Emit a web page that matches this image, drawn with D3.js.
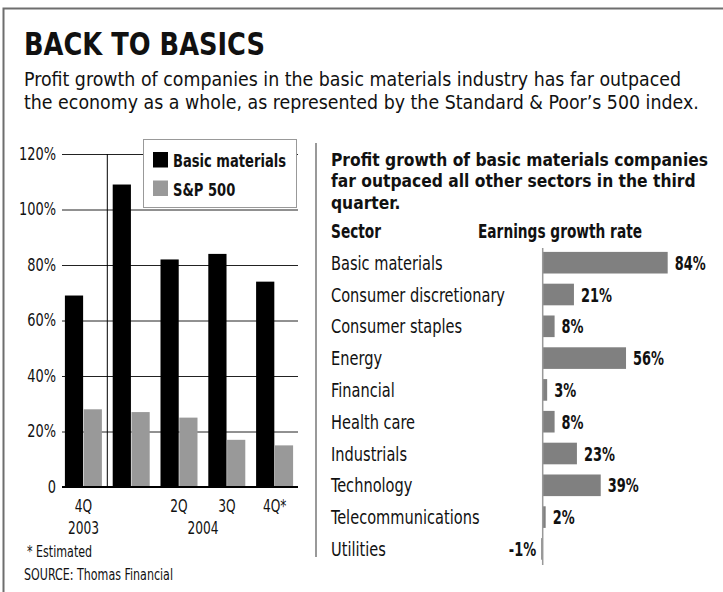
<!DOCTYPE html>
<html>
<head>
<meta charset="utf-8">
<script src="https://cdn.jsdelivr.net/npm/d3@7"></script>
<style>
  html, body { margin: 0; padding: 0; background: #fff; }
  svg { display: block; }
  text { font-family: "Liberation Sans Narrow", "DejaVu Sans Condensed", "Roboto Condensed", sans-serif; fill: #111; }
</style>
</head>
<body>
<svg id="chart" width="723" height="592"></svg>
<script>
// ---------- DATA ----------
const quarters = ["4Q 2003", "1Q 2004", "2Q 2004", "3Q 2004", "4Q 2004"];
const quarterTickLabels = ["4Q", "", "2Q", "3Q", "4Q*"];
const yearLabels = ["2003", "2004"];
const basicMaterials = [69, 109, 82, 84, 74];
const sp500 = [28, 27, 25, 17, 15];
const yTicks = [0, 20, 40, 60, 80, 100, 120];
const seriesNames = ["Basic materials", "S&P 500"];

const sectors = ["Basic materials", "Consumer discretionary", "Consumer staples", "Energy",
  "Financial", "Health care", "Industrials", "Technology", "Telecommunications", "Utilities"];
const growthRates = [84, 21, 8, 56, 3, 8, 23, 39, 2, -1];

const titleText = "BACK TO BASICS";
const subtitleLines = [
  "Profit growth of companies in the basic materials industry has far outpaced",
  "the economy as a whole, as represented by the Standard & Poor\u2019s 500 index."
];
const rightTitleLines = [
  "Profit growth of basic materials companies",
  "far outpaced all other sectors in the third",
  "quarter."
];

// ---------- HELPERS ----------
const svg = d3.select("#chart");
function fitOne(node, target) {
  const w = node.getComputedTextLength();
  if (w > 0) d3.select(node).attr("textLength", target).attr("lengthAdjust", "spacingAndGlyphs");
}
function fitGroup(sel, refNode, target) {
  const r = target / refNode.getComputedTextLength();
  sel.each(function () {
    const l = this.getComputedTextLength();
    if (l > 0) d3.select(this).attr("textLength", l * r).attr("lengthAdjust", "spacingAndGlyphs");
  });
}
// shrink font so the natural width stays inside a limit, then fit to target
function limitFont(sel, refNode, limit) {
  const w = refNode.getComputedTextLength();
  const fs = parseFloat(d3.select(refNode).attr("font-size"));
  if (w > limit) sel.attr("font-size", fs * limit / w);
}

// ---------- FRAME ----------
svg.append("path").attr("d", "M3.5,592 V8.5 H723")
  .attr("fill", "none").attr("stroke", "#6e6e6e").attr("stroke-width", 2);

// ---------- HEADER ----------
const t = svg.append("text").attr("x", 24).attr("y", 55)
  .attr("font-size", 32).attr("font-weight", "bold").attr("fill", "#000").text(titleText);
fitOne(t.node(), 241);

const subs = svg.selectAll(".sub").data(subtitleLines).join("text").attr("class", "sub")
  .attr("x", 24).attr("y", (d, i) => 86 + i * 23).attr("font-size", 19.5).text(d => d);
limitFont(subs, subs.nodes()[1], 690);
fitGroup(subs, subs.nodes()[0], 657);

// ---------- LEFT CHART ----------
const y = d3.scaleLinear().domain([0, 120]).range([487, 154]);
const x0 = d3.scaleBand().domain(quarters).range([59.5, 298.5]).paddingInner(0.226).paddingOuter(0.113);
const x1 = d3.scaleBand().domain(seriesNames).range([0, x0.bandwidth()]).paddingInner(0.03);
const colors = d3.scaleOrdinal().domain(seriesNames).range(["#000000", "#999999"]);

const gridLeft = 62, gridRight = 298;
const yAxis = d3.axisLeft(y).tickValues(yTicks)
  .tickFormat(d => d === 0 ? "0" : d + "%")
  .tickSize(-(gridRight - gridLeft)).tickPadding(6);
const gy = svg.append("g").attr("transform", `translate(${gridLeft},0)`).call(yAxis);
gy.select(".domain").remove();
gy.selectAll(".tick line").attr("stroke", "#222").attr("stroke-width", 1);
gy.selectAll(".tick text").attr("font-size", 17).attr("fill", "#111")
  .style("font-family", '"Liberation Sans Narrow", "DejaVu Sans Condensed", sans-serif');
const tickTexts = gy.selectAll(".tick text");
fitGroup(tickTexts, tickTexts.nodes()[tickTexts.size() - 1], 37);

// separator between 2003 and 2004
const sepX = (x0(quarters[0]) + x0.bandwidth() + x0(quarters[1])) / 2;
svg.append("line").attr("x1", sepX).attr("x2", sepX).attr("y1", y(120)).attr("y2", y(0))
  .attr("stroke", "#000").attr("stroke-width", 1);

// bars
const rows = quarters.map((q, i) => ({ q, vals: [basicMaterials[i], sp500[i]] }));
svg.append("g").selectAll("g").data(rows).join("g")
  .attr("transform", d => `translate(${x0(d.q)},0)`)
  .selectAll("rect").data(d => d.vals.map((v, j) => ({ s: seriesNames[j], v })))
  .join("rect")
  .attr("x", d => x1(d.s)).attr("width", x1.bandwidth())
  .attr("y", d => y(d.v)).attr("height", d => y(0) - y(d.v))
  .attr("fill", d => colors(d.s));

// zero axis line
svg.append("line").attr("x1", gridLeft).attr("x2", gridRight).attr("y1", y(0)).attr("y2", y(0))
  .attr("stroke", "#000").attr("stroke-width", 2);

// x axis labels
const xAxis = d3.axisBottom(x0).tickSize(0).tickPadding(13)
  .tickFormat((d, i) => quarterTickLabels[i]);
const gx = svg.append("g").attr("transform", `translate(0,${y(0)})`).call(xAxis);
gx.select(".domain").remove();
gx.selectAll(".tick text").attr("font-size", 17).attr("fill", "#111")
  .style("font-family", '"Liberation Sans Narrow", "DejaVu Sans Condensed", sans-serif');

const yearPos = [
  x0(quarters[0]) + x0.bandwidth() / 2,
  (x0(quarters[1]) + x0(quarters[4]) + x0.bandwidth()) / 2
];
const years = svg.selectAll(".year").data(yearLabels).join("text").attr("class", "year")
  .attr("x", (d, i) => yearPos[i]).attr("y", 534).attr("text-anchor", "middle")
  .attr("font-size", 17).text(d => d);
const yearNatural = years.nodes()[0].getComputedTextLength();
fitGroup(years, years.nodes()[0], 31);
const xTexts = gx.selectAll(".tick text").filter(function () { return this.textContent !== ""; });
xTexts.each(function () {
  const l = this.getComputedTextLength();
  d3.select(this).attr("textLength", l * 31 / yearNatural).attr("lengthAdjust", "spacingAndGlyphs");
});

// legend
const lg = svg.append("g");
lg.append("rect").attr("x", 143.5).attr("y", 139.5).attr("width", 153).attr("height", 68)
  .attr("fill", "#fff").attr("stroke", "#999").attr("stroke-width", 1);
const li = lg.selectAll("g.li").data(seriesNames).join("g").attr("class", "li")
  .attr("transform", (d, i) => `translate(153,${152 + i * 28.5})`);
li.append("rect").attr("width", 15).attr("height", 15.5).attr("fill", d => colors(d));
const legTexts = li.append("text").attr("x", 20).attr("y", 15).attr("font-size", 17)
  .attr("font-weight", "bold").attr("fill", "#000").text(d => d);
fitGroup(legTexts, legTexts.nodes()[0], 113);

// footnotes
const fn1 = svg.append("text").attr("x", 27).attr("y", 557).attr("font-size", 15.5).text("* Estimated");
const fn2 = svg.append("text").attr("x", 24).attr("y", 580).attr("font-size", 15.5).text("SOURCE: Thomas Financial");
fitGroup(d3.selectAll([fn1.node(), fn2.node()]), fn2.node(), 149);

// ---------- RIGHT PANEL ----------
svg.append("line").attr("x1", 316).attr("x2", 316).attr("y1", 143).attr("y2", 557)
  .attr("stroke", "#999").attr("stroke-width", 2);

const rt = svg.selectAll(".rt").data(rightTitleLines).join("text").attr("class", "rt")
  .attr("x", 331).attr("y", (d, i) => 165.5 + i * 21.8)
  .attr("font-size", 20).attr("font-weight", "bold").attr("fill", "#000").text(d => d);
limitFont(rt, rt.nodes()[0], 386);
fitGroup(rt, rt.nodes()[0], 377);

const hdr = svg.selectAll(".hdr").data([["Sector", 331], ["Earnings growth rate", 478]]).join("text")
  .attr("class", "hdr").attr("x", d => d[1]).attr("y", 238)
  .attr("font-size", 19).attr("font-weight", "bold").attr("fill", "#000").text(d => d[0]);
fitGroup(hdr, hdr.nodes()[1], 164);

const xr = d3.scaleLinear().domain([0, 100]).range([542.7, 691.5]);
const yr = d3.scaleBand().domain(sectors).range([246.8, 564.8]).paddingInner(0.32).paddingOuter(0.16);
const sectorData = sectors.map((s, i) => ({ s, v: growthRates[i] }));

svg.append("g").selectAll("rect").data(sectorData).join("rect")
  .attr("x", d => xr(Math.min(0, d.v))).attr("width", d => Math.abs(xr(d.v) - xr(0)))
  .attr("y", d => yr(d.s)).attr("height", yr.bandwidth())
  .attr("fill", "#808080");

svg.append("line").attr("x1", xr(0)).attr("x2", xr(0)).attr("y1", 248).attr("y2", 565)
  .attr("stroke", "#999").attr("stroke-width", 1.5);

const secLabels = svg.selectAll(".sec").data(sectorData).join("text").attr("class", "sec")
  .attr("x", 331).attr("y", d => yr(d.s) + yr.bandwidth() / 2 + 7)
  .attr("font-size", 19).text(d => d.s);
fitGroup(secLabels, secLabels.nodes()[1], 174);

const valLabels = svg.selectAll(".val").data(sectorData).join("text").attr("class", "val")
  .attr("x", d => d.v >= 0 ? xr(d.v) + 7 : xr(d.v) - 5)
  .attr("text-anchor", d => d.v >= 0 ? "start" : "end")
  .attr("y", d => yr(d.s) + yr.bandwidth() / 2 + 7)
  .attr("font-size", 19).attr("font-weight", "bold").attr("fill", "#000")
  .text(d => d.v + "%");
fitGroup(valLabels, valLabels.nodes()[0], 31);
</script>
</body>
</html>
